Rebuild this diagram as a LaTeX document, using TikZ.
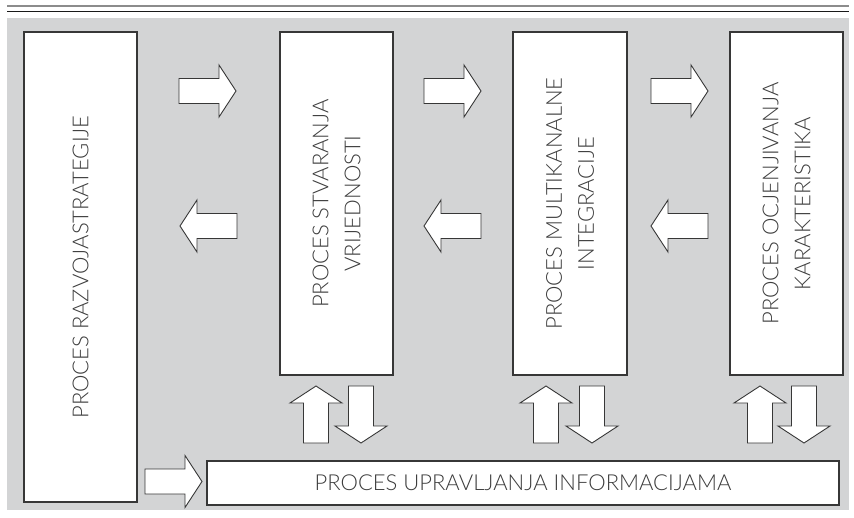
\documentclass[tikz,border=0pt]{standalone}
\usepackage{fontspec}
\setmainfont{Lato Light}
\definecolor{bgray}{RGB}{211,212,213}
\definecolor{edge}{RGB}{55,55,55}
\definecolor{txt}{RGB}{60,60,60}
\tikzset{
  procbox/.style={draw=edge, line width=1.2pt, fill=white, inner sep=0pt},
  vlabel/.style={rotate=90, align=center, text=txt, font=\fontsize{22}{32}\selectfont},
  hlabel/.style={text=txt, font=\fontsize{22}{32}\selectfont},
  arrowline/.style={draw=edge, line width=0.9pt, fill=white, line join=miter},
  blk/.pic={\path[arrowline] (0,12.5) -- (40,12.5) -- (40,26) -- (57,0) -- (40,-26) -- (40,-12.5) -- (0,-12.5) -- cycle;}
}
\begin{document}
\begin{tikzpicture}[x=1pt,y=-1pt]
\useasboundingbox (0,0) rectangle (854,517);
% top rules
\draw[line width=2pt, color=black!45] (7,6) -- (849,6);
\draw[line width=1.4pt, color=black!90] (7,11.5) -- (849,11.5);
% background
\fill[bgray] (7,18) rectangle (849,510);
% boxes
\node[procbox, minimum width=113pt, minimum height=470pt] (strat) at (80.5,267) {};
\node[vlabel] at (strat.center) {PROCES RAZVOJASTRATEGIJE};
\node[procbox, minimum width=113pt, minimum height=343pt] (vrij) at (336.5,203.5) {};
\node[vlabel] at (vrij.center) {PROCES STVARANJA\\VRIJEDNOSTI};
\node[procbox, minimum width=114pt, minimum height=343pt] (multi) at (570,203.5) {};
\node[vlabel] at (multi.center) {PROCES MULTIKANALNE\\INTEGRACIJE};
\node[procbox, minimum width=113pt, minimum height=343pt] (ocj) at (786.5,203.5) {};
\node[vlabel] at (ocj.center) {PROCES OCJENJIVANJA\\KARAKTERISTIKA};
\node[procbox, minimum width=632pt, minimum height=44pt] (info) at (523,483) {};
\node[hlabel] at (info.center) {PROCES UPRAVLJANJA INFORMACIJAMA};
% right arrows
\pic at (179,91) {blk};
\pic at (424,91) {blk};
\pic at (651,91) {blk};
% left arrows
\pic[rotate=180] at (237,226) {blk};
\pic[rotate=180] at (481,226) {blk};
\pic[rotate=180] at (708,226) {blk};
% up arrows
\pic[rotate=90] at (316,443) {blk};
\pic[rotate=90] at (546,443) {blk};
\pic[rotate=90] at (760,443) {blk};
% down arrows
\pic[rotate=-90] at (361,386) {blk};
\pic[rotate=-90] at (592,386) {blk};
\pic[rotate=-90] at (804,386) {blk};
% bottom arrow
\pic at (145,481.5) {blk};
\end{tikzpicture}
\end{document}
